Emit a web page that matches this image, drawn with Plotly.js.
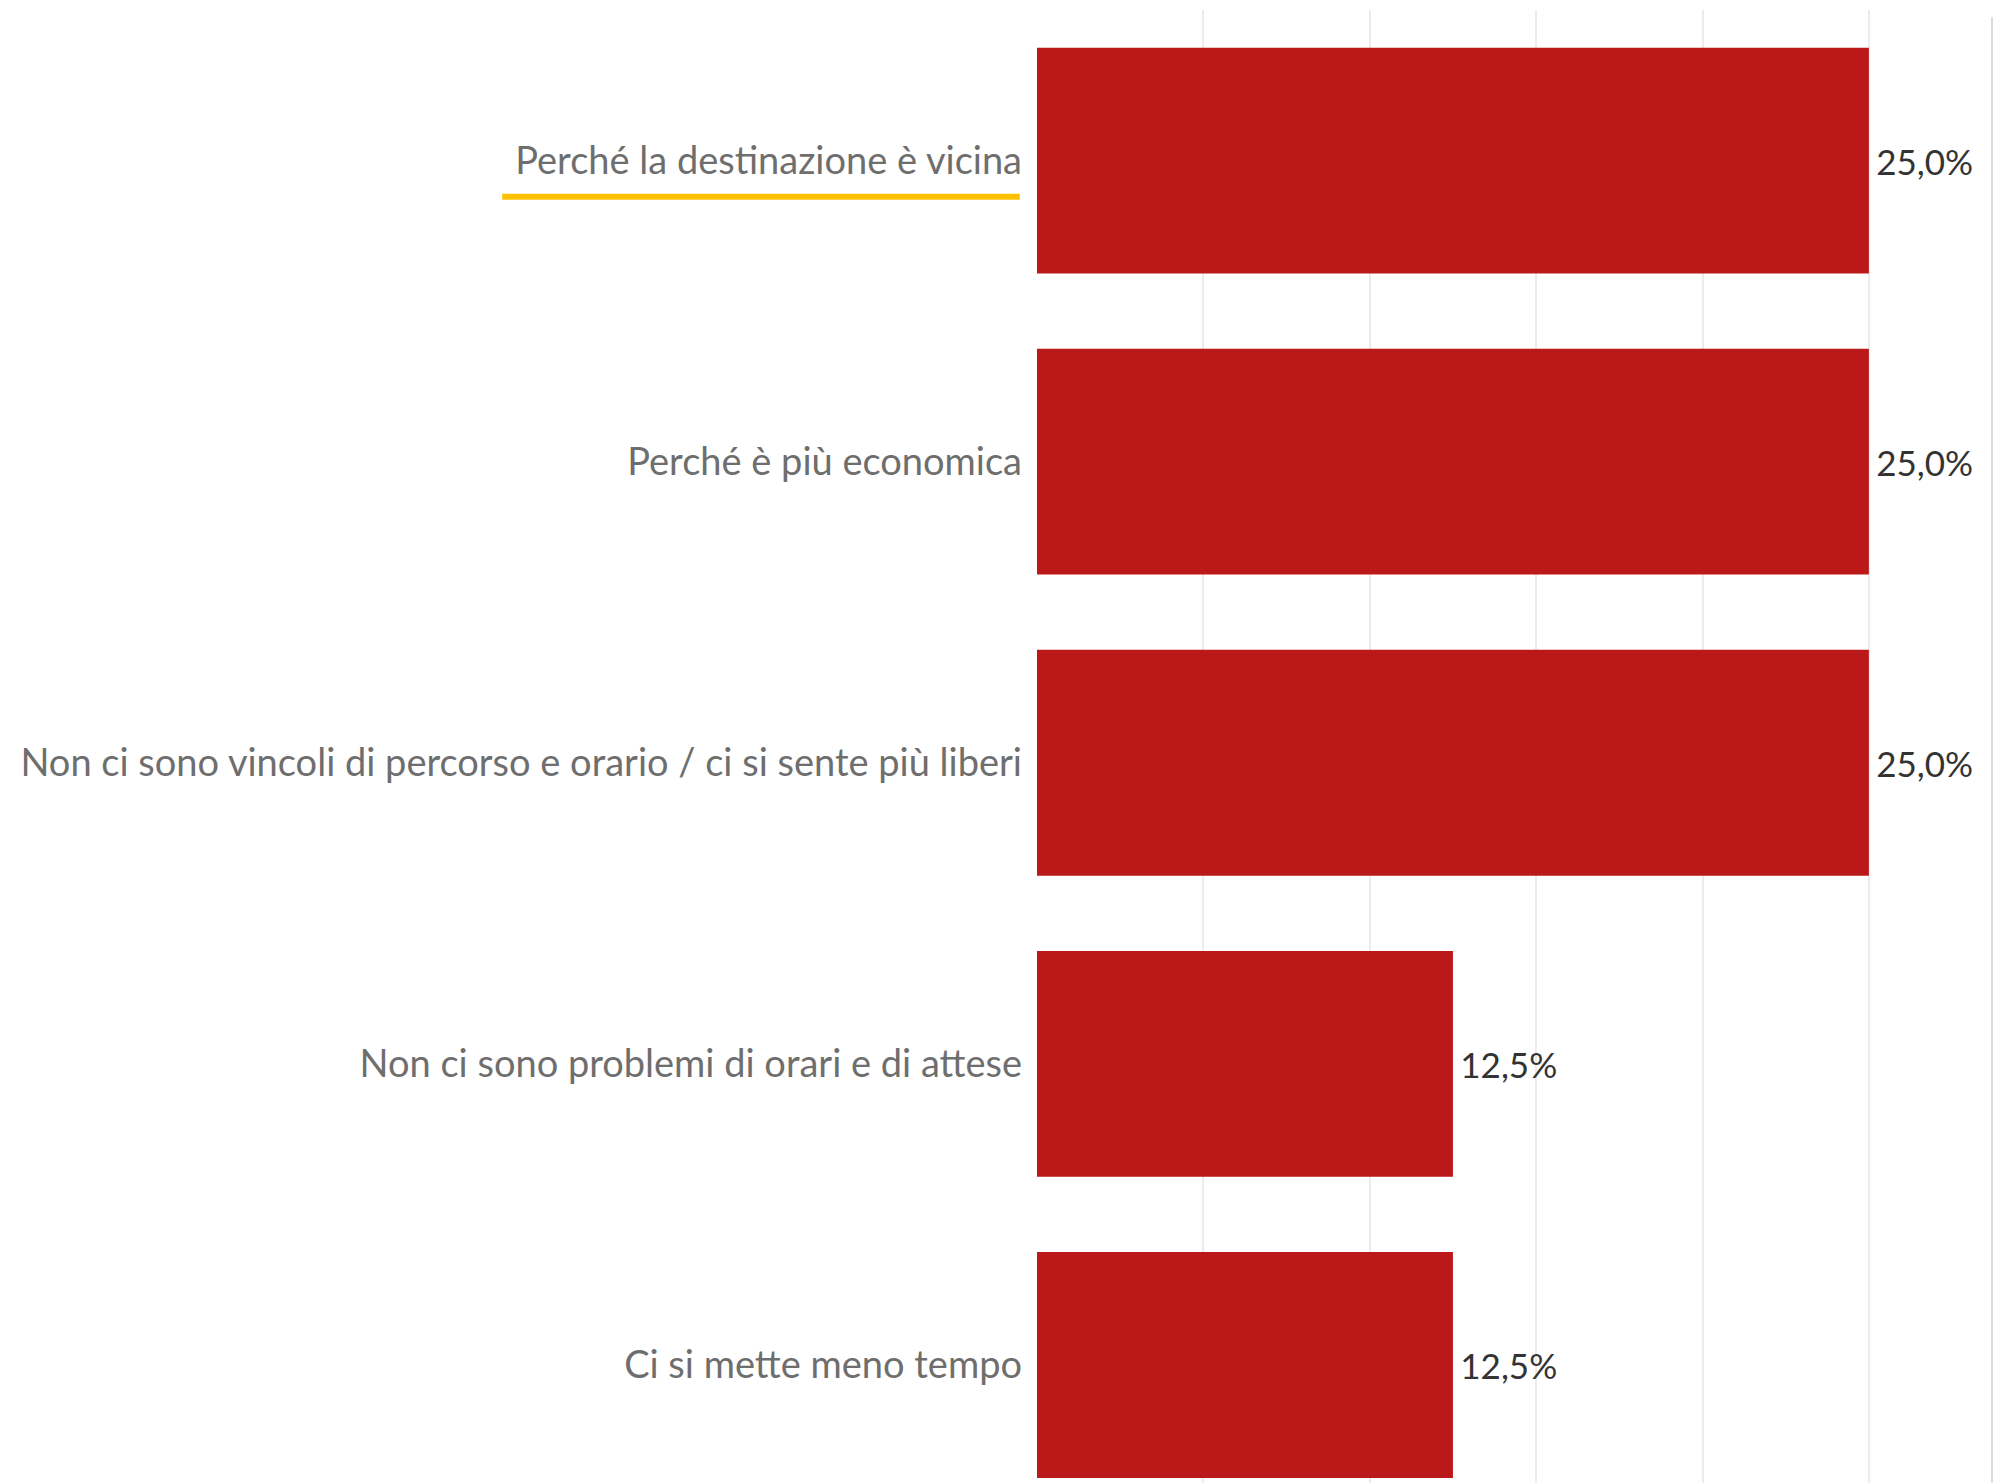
<!DOCTYPE html>
<html>
<head>
<meta charset="utf-8">
<script src="https://cdn.plot.ly/plotly-3.0.1.min.js"></script>
<style>
html,body{margin:0;padding:0;background:#fff;}
#chart{width:1999px;height:1483px;}
</style>
</head>
<body>
<div id="chart"></div>
<script>
const categories = [
  "Perché la destinazione è vicina",
  "Perché è più economica",
  "Non ci sono vincoli di percorso e orario / ci si sente più liberi",
  "Non ci sono problemi di orari e di attese",
  "Ci si mette meno tempo"
];
const values = [25.0, 25.0, 25.0, 12.5, 12.5];
const valueLabels = values.map(v => v.toFixed(1).replace('.', ',') + '%');

const trace = {
  type: 'bar',
  orientation: 'h',
  y: categories,
  x: values,
  text: valueLabels,
  texttemplate: '\u2009%{text}',
  textposition: 'outside',
  cliponaxis: false,
  textfont: {family: 'Lato, sans-serif', size: 35, color: '#333333'},
  marker: {color: '#bb1919', line: {width: 0}},
  hoverinfo: 'none'
};

const layout = {
  width: 1999,
  height: 1483,
  margin: {l: 1037, r: 7, t: 10, b: 0, pad: 0},
  paper_bgcolor: '#ffffff',
  plot_bgcolor: '#ffffff',
  bargap: 0.25,
  showlegend: false,
  xaxis: {
    range: [0, 28.7],
    dtick: 5,
    showgrid: true,
    gridcolor: '#ececec',
    gridwidth: 2,
    zeroline: false,
    showticklabels: false,
    ticks: '',
    showline: false,
    fixedrange: true
  },
  yaxis: {
    type: 'category',
    range: [4.392, -0.5],
    showgrid: false,
    zeroline: false,
    showline: false,
    ticks: '',
    ticklabelstandoff: 14,
    tickfont: {family: 'Lato, sans-serif', size: 38, color: '#6e6e6e'},
    fixedrange: true
  },
  shapes: [
    {
      type: 'line', xref: 'paper', yref: 'y',
      x0: -0.560, x1: -0.018, y0: 0.12, y1: 0.12,
      line: {color: '#ffc000', width: 6}
    },
    {
      type: 'line', xref: 'paper', yref: 'paper',
      x0: 1, x1: 1, y0: 0, y1: 0.995,
      line: {color: '#dcdcdc', width: 2}
    }
  ]
};

Plotly.newPlot('chart', [trace], layout, {displayModeBar: false, staticPlot: true});
</script>
</body>
</html>
